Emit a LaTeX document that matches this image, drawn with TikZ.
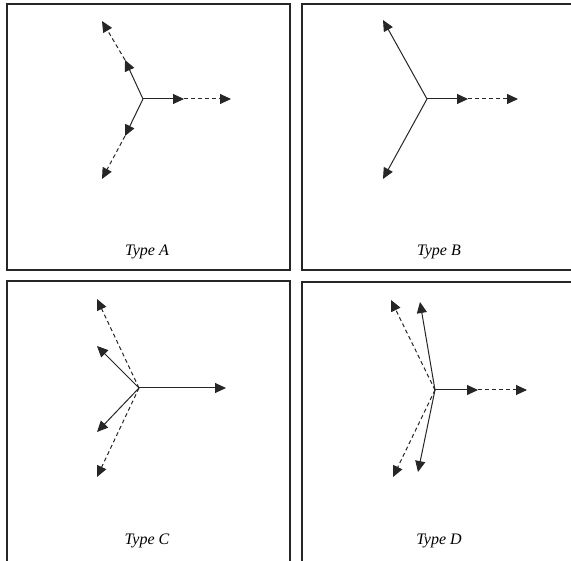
\documentclass[tikz,border=0pt]{standalone}
\usepackage{fontspec}
\setmainfont{Liberation Serif}
\usetikzlibrary{arrows.meta}
\tikzset{
  panel/.style={draw=black!85, line width=1.6pt},
  vec/.style={draw=black!85, line width=1pt, -{Triangle[length=11pt,width=10pt]}},
  dvec/.style={vec, dash pattern=on 4pt off 3pt},
  lbl/.style={font=\itshape\fontsize{16}{19}\selectfont, anchor=base, inner sep=0pt}
}
\begin{document}
\begin{tikzpicture}[x=1pt,y=-1pt]
\useasboundingbox (0,0) rectangle (571,561);
\clip (0,0) rectangle (571,561);
\fill[white] (0,0) rectangle (571,561);
% panels
\draw[panel] (7,4) rectangle (290,270);
\draw[panel] (302,4) rectangle (600,270);
\draw[panel] (7,281) rectangle (290,600);
\draw[panel] (302,282) rectangle (600,600);
% ---------- Type A ----------
\coordinate (ac) at (143,99);
\coordinate (arm) at (184,99);   \coordinate (are) at (231,99);
\coordinate (aum) at (125,60);   \coordinate (aue) at (102,21);
\coordinate (adm) at (125,136);  \coordinate (ade) at (102,179);
\draw[vec] (ac) -- (arm); \draw[dvec] (arm) -- (are);
\draw[vec] (ac) -- (aum); \draw[dvec] (aum) -- (aue);
\draw[vec] (ac) -- (adm); \draw[dvec] (adm) -- (ade);
\node[lbl] (la) at (147,256) {Type A};
% ---------- Type B ----------
\coordinate (bc) at (427,99);
\coordinate (brm) at (468,99);   \coordinate (bre) at (518,99);
\coordinate (bue) at (383,20);
\coordinate (bde) at (383,179);
\draw[vec] (bc) -- (brm); \draw[dvec] (brm) -- (bre);
\draw[vec] (bc) -- (bue);
\draw[vec] (bc) -- (bde);
\node[lbl] (lb) at (439,256) {Type B};
% ---------- Type C ----------
\coordinate (cc) at (139,388);
\coordinate (cre) at (226,388);
\coordinate (cus) at (97,346);   \coordinate (cud) at (97,299);
\coordinate (cds) at (97,432);   \coordinate (cdd) at (97,477);
\draw[vec] (cc) -- (cre);
\draw[vec] (cc) -- (cus);
\draw[dvec] (cc) -- (cud);
\draw[vec] (cc) -- (cds);
\draw[dvec] (cc) -- (cdd);
\node[lbl] (lc) at (147,544) {Type C};
% ---------- Type D ----------
\coordinate (dc) at (435,390);
\coordinate (drm) at (478,390);  \coordinate (dre) at (527,390);
\coordinate (dud) at (391,300);  \coordinate (dus) at (420,302);
\coordinate (ddd) at (393,477);  \coordinate (dds) at (418,472);
\draw[vec] (dc) -- (drm); \draw[dvec] (drm) -- (dre);
\draw[dvec] (dc) -- (dud);
\draw[vec] (dc) -- (dus);
\draw[dvec] (dc) -- (ddd);
\draw[vec] (dc) -- (dds);
\node[lbl] (ld) at (439,544) {Type D};
\end{tikzpicture}
\end{document}
